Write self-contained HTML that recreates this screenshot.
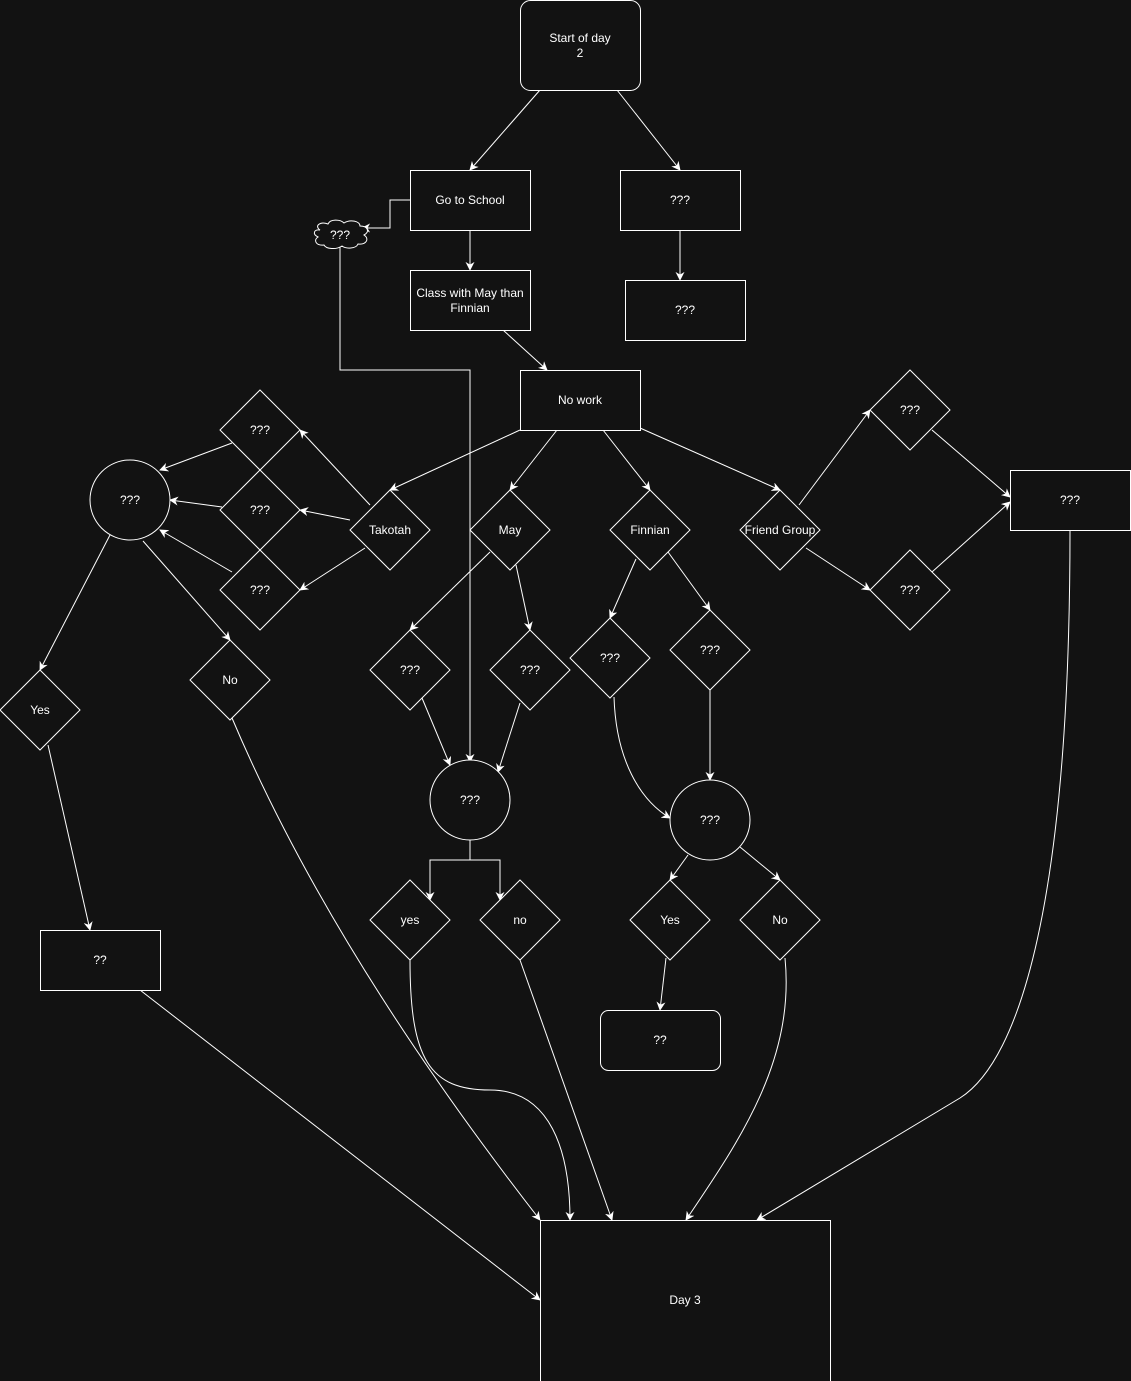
<!DOCTYPE html>
<html><head><meta charset="utf-8"><style>
html,body{margin:0;padding:0;background:#121212;}
svg{display:block;}
text{font-family:"Liberation Sans",Arial,sans-serif;font-size:12px;fill:#fff;text-anchor:middle;dominant-baseline:middle;}
.s{fill:none;stroke:#fff;stroke-width:1;}
.n{fill:#121212;stroke:#fff;stroke-width:1;}
</style></head><body>
<svg width="1131" height="1381" viewBox="0 0 1131 1381" xmlns="http://www.w3.org/2000/svg">
<defs><marker id="a" viewBox="0 0 10 10" refX="9" refY="5" markerWidth="9" markerHeight="9" orient="auto" markerUnits="userSpaceOnUse"><path d="M0,0 L10,5 L0,10 L3,5 Z" fill="#fff"/></marker></defs>
<g class="s" marker-end="url(#a)">
<path d="M540,90 L470,170"/><path d="M617,90 L680,170"/>
<path d="M410,200 L390,200 L390,228 L362,228"/>
<path d="M470,230 L470,270"/><path d="M680,230 L680,280"/>
<path d="M503,330 L547,370"/>
<path d="M340,247 L340,370 L470,370 L470,762"/>
<path d="M520,430 L390,490"/><path d="M557,430 L510,490"/><path d="M603,430 L650,490"/><path d="M640,428 L780,490"/>
<path d="M370,505 L300,430"/><path d="M350,520 L300,510"/><path d="M365,548 L300,590"/>
<path d="M232,443 L160,470"/><path d="M222,507 L170,500"/><path d="M232,572 L160,530"/>
<path d="M110,535 L40,670"/><path d="M143,541 L230,640"/>
<path d="M48,745 L90,930"/>
<path d="M232,718 Q330,950 540,1220"/>
<path d="M140,990 L540,1300"/>
<path d="M490,552 L410,630"/><path d="M516,565 L530,630"/>
<path d="M422,698 L450,765"/><path d="M520,703 L498,772"/>
<path d="M470,840 L470,860 L430,860 L430,900"/><path d="M470,860 L500,860 L500,900"/>
<path d="M410,960 C410,1060 430,1090 490,1090 C550,1090 570,1150 570,1220"/>
<path d="M520,960 L612,1220"/>
<path d="M636,559 L610,618"/><path d="M668,552 L710,610"/>
<path d="M614,697 C616,760 640,800 670,818"/>
<path d="M710,690 L710,780"/>
<path d="M688,855 L670,880"/><path d="M740,847 L780,880"/>
<path d="M666,958 L660,1010"/>
<path d="M785,958 C795,1060 740,1140 686,1220"/>
<path d="M799,505 L870,410"/><path d="M806,548 L870,590"/>
<path d="M932,430 L1010,497"/><path d="M932,572 L1010,502"/>
<path d="M1070,530 C1070,900 1020,1060 960,1098 L757,1220"/>
</g>
<!-- rects -->
<rect class="n" x="520.5" y="0.5" width="120" height="90" rx="10"/>
<text x="580" y="39">Start of day</text><text x="580" y="54">2</text>
<rect class="n" x="410.5" y="170.5" width="120" height="60"/><text x="470" y="201">Go to School</text>
<rect class="n" x="620.5" y="170.5" width="120" height="60"/><text x="680" y="201">???</text>
<rect class="n" x="625.5" y="280.5" width="120" height="60"/><text x="685" y="311">???</text>
<rect class="n" x="410.5" y="270.5" width="120" height="60"/><text x="470" y="294">Class with May than</text><text x="470" y="309">Finnian</text>
<path class="n" d="M320,230 C314,226 320,221 328,224 C330,219 340,219 344,223 C350,219 360,221 360,226 C368,226 370,232 364,235 C370,239 366,245 358,244 C356,249 346,249 342,246 C336,250 326,249 324,245 C316,246 313,240 318,237 C312,234 314,229 320,230 Z"/>
<text x="340" y="236">???</text>
<rect class="n" x="520.5" y="370.5" width="120" height="60"/><text x="580" y="401">No work</text>
<rect class="n" x="1010.5" y="470.5" width="120" height="60"/><text x="1070" y="501">???</text>
<rect class="n" x="40.5" y="930.5" width="120" height="60"/><text x="100" y="961">??</text>
<rect class="n" x="600.5" y="1010.5" width="120" height="60" rx="8"/><text x="660" y="1041">??</text>
<rect class="n" x="540.5" y="1220.5" width="290" height="165"/><text x="685" y="1301">Day 3</text>
<!-- circles -->
<circle class="n" cx="130" cy="500" r="40"/><text x="130" y="501">???</text>
<circle class="n" cx="470" cy="800" r="40"/><text x="470" y="801">???</text>
<circle class="n" cx="710" cy="820" r="40"/><text x="710" y="821">???</text>
<!-- diamonds -->
<g>
<path class="n" d="M260,390 L300,430 L260,470 L220,430 Z"/><text x="260" y="431">???</text>
<path class="n" d="M260,470 L300,510 L260,550 L220,510 Z"/><text x="260" y="511">???</text>
<path class="n" d="M260,550 L300,590 L260,630 L220,590 Z"/><text x="260" y="591">???</text>
<path class="n" d="M390,490 L430,530 L390,570 L350,530 Z"/><text x="390" y="531">Takotah</text>
<path class="n" d="M510,490 L550,530 L510,570 L470,530 Z"/><text x="510" y="531">May</text>
<path class="n" d="M650,490 L690,530 L650,570 L610,530 Z"/><text x="650" y="531">Finnian</text>
<path class="n" d="M780,490 L820,530 L780,570 L740,530 Z"/><text x="780" y="531">Friend Group</text>
<path class="n" d="M910,370 L950,410 L910,450 L870,410 Z"/><text x="910" y="411">???</text>
<path class="n" d="M910,550 L950,590 L910,630 L870,590 Z"/><text x="910" y="591">???</text>
<path class="n" d="M230,640 L270,680 L230,720 L190,680 Z"/><text x="230" y="681">No</text>
<path class="n" d="M40,670 L80,710 L40,750 L0,710 Z"/><text x="40" y="711">Yes</text>
<path class="n" d="M410,630 L450,670 L410,710 L370,670 Z"/><text x="410" y="671">???</text>
<path class="n" d="M530,630 L570,670 L530,710 L490,670 Z"/><text x="530" y="671">???</text>
<path class="n" d="M610,618 L650,658 L610,698 L570,658 Z"/><text x="610" y="659">???</text>
<path class="n" d="M710,610 L750,650 L710,690 L670,650 Z"/><text x="710" y="651">???</text>
<path class="n" d="M410,880 L450,920 L410,960 L370,920 Z"/><text x="410" y="921">yes</text>
<path class="n" d="M520,880 L560,920 L520,960 L480,920 Z"/><text x="520" y="921">no</text>
<path class="n" d="M670,880 L710,920 L670,960 L630,920 Z"/><text x="670" y="921">Yes</text>
<path class="n" d="M780,880 L820,920 L780,960 L740,920 Z"/><text x="780" y="921">No</text>
</g>
</svg>
</body></html>
